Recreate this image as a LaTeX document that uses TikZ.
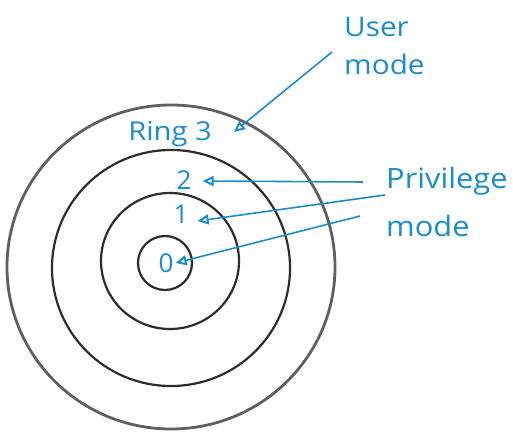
\documentclass[tikz,border=0pt]{standalone}
\usepackage{fontspec}
\setmainfont{Open Sans}
\usetikzlibrary{arrows.meta,calc}
\definecolor{ink}{RGB}{25,140,205}
\definecolor{pencil}{RGB}{95,95,95}
\definecolor{pencildark}{RGB}{45,45,45}
\begin{document}
\begin{tikzpicture}[x=1pt,y=-1pt,
  ring/.style={draw=pencil,line width=2.8pt},
  ringdark/.style={draw=pencildark,line width=2.2pt},
  lbl/.style={text=ink,font=\fontsize{26}{28}\selectfont,inner sep=0pt},
  note/.style={text=ink,align=left,inner sep=0pt,xscale=1.1},
  ptr/.style={draw=ink,line width=1.6pt,-{Triangle[open,length=11pt,width=10pt,line width=2pt]}}]
\useasboundingbox (0,0) rectangle (513,435);
% rings
\draw[ring] (171,267) ellipse [x radius=164pt, y radius=162pt];
\draw[ringdark] (171,268) ellipse [x radius=119pt, y radius=118pt];
\draw[ringdark] (170,261) ellipse [x radius=69pt, y radius=68pt];
\draw[ringdark] (165,263) circle [radius=27pt];
% ring labels
\node[lbl,xscale=1.12] (r3) at (170,134) {Ring 3};
\node[lbl] (r2) at (184,180) {2};
\node[lbl] (r1) at (181,214) {1};
\node[lbl] (r0) at (166,263) {0};
% mode labels
\node[note,font=\fontsize{27}{38}\selectfont,anchor=north west] (um) at (344,17) {User\\mode};
\node[note,font=\fontsize{28}{48}\selectfont,anchor=north west] (pm) at (386,167) {Privilege\\mode};
% free ends of the pointers
\coordinate (u0) at (332,52);
\coordinate (p2) at (363,182);
\coordinate (p1) at (385,195);
\coordinate (p0) at (360,216);
% pointers
\draw[ptr] (u0) -- ($(r3.east)+(22,-2)$);
\draw[ptr] (p2) -- ($(r2.east)+(11,1)$);
\draw[ptr] (p1) -- ($(r1.east)+(9,7)$);
\draw[ptr] (p0) -- ($(r0.east)+(2,0)$);
\end{tikzpicture}
\end{document}
